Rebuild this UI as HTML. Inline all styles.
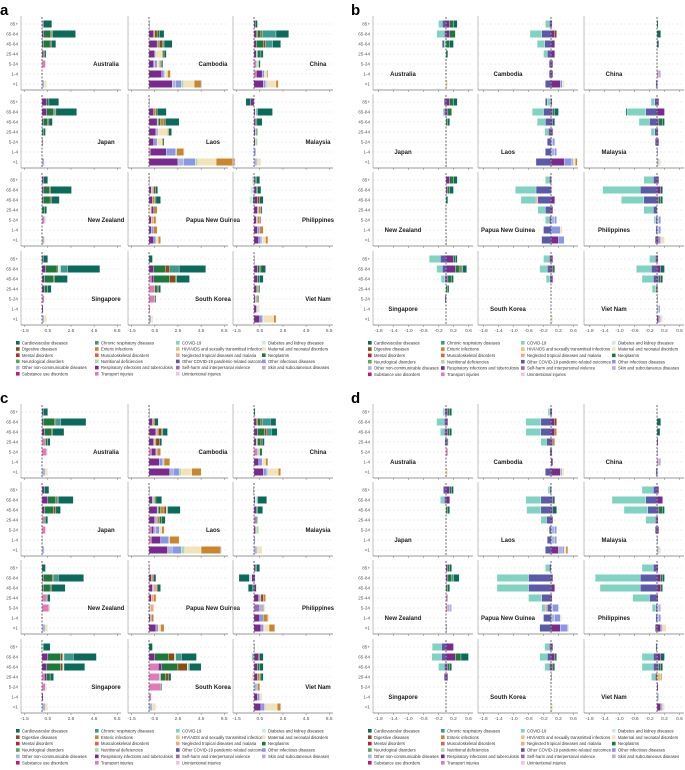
<!DOCTYPE html>
<html><head><meta charset="utf-8">
<style>
html,body{margin:0;padding:0;background:#fff;}
svg text{font-family:"Liberation Sans",sans-serif;}
</style></head>
<body>
<svg id="fig" width="685" height="765" viewBox="0 0 685 765" xmlns="http://www.w3.org/2000/svg"></svg>
<script>
const categories = ["Cardiovascular diseases","Chronic respiratory diseases","COVID-19","Diabetes and kidney diseases","Digestive diseases","Enteric infections","HIV/AIDS and sexually transmitted infections","Maternal and neonatal disorders","Mental disorders","Musculoskeletal disorders","Neglected tropical diseases and malaria","Neoplasms","Neurological disorders","Nutritional deficiencies","Other COVID-19 pandemic-related outcomes","Other infectious diseases","Other non-communicable diseases","Respiratory infections and tuberculosis","Self-harm and interpersonal violence","Skin and subcutaneous diseases","Substance use disorders","Transport injuries","Unintentional injuries"];
const catCodes = ["C","H","V","D","G","E","A","M","P","K","T","N","L","F","O","I","X","R","S","Q","U","W","J"];
const catColors = ["#0b6b5b","#3a9a90","#7fd3c0","#c9ece2","#8c4a14","#c8862e","#e6c27a","#f3e3b8","#c0203a","#e0604a","#f4a582","#1b7a3a","#4cae58","#a8dca0","#5a5aa8","#8c96e6","#aab4dc","#7a2a8c","#9a6ab8","#c4a8d8","#c8167a","#e07ab8","#f4c0dc"];
const countries = ["Australia","Cambodia","China","Japan","Laos","Malaysia","New Zealand","Papua New Guinea","Philippines","Singapore","South Korea","Viet Nam"];
const ages = ["85+","65-84","45-64","25-44","5-24","1-4","<1"];
const ticksAC = [-1.5,0.5,2.5,4.5,6.5];
const ticksBD = [-1.8,-1.4,-1.0,-0.6,-0.2,0.2,0.6];

const dataA = {
"Australia":["X.05 R.1 C.7","R.15 N.6 G.1 H.05 C2.0","R.1 N.6 G.1 C.4","U.1 N.1 C.15","W.3","","X.2 M.2"],
"Cambodia":["R.05","R.4 E.1 G.2 N.2 C.4","R.7 E.1 N.1 G.3 H.1 C.7","R.5 X.1 M.5 E.1 N.1 C.2","R.4 X.1 I.2 M.2 E.1 N.1 C.1","R1.1 I.2 F.1 M.2 E.25","R2.0 X.3 I.5 F.2 M.9 E.6 H.05"],
"China":["R.1 C.2","R.2 G.1 N.3 G.1 H1.2 C1.1","R.2 N.6 G.2 H.6 C.7","R.2 X.1 N.3 C.2","W.2 X.1 F.1 N.15","W.2 R.5 I.2 M.2 E.1","R.8 I.2 X.1 M.8 E.2"],
"Japan":["R.4 N.2 C.85","R.4 N.6 G.1 H.1 C1.8","R.1 N.4 G.1 C.3","N.15 C.15","W.1","","X.2"],
"Laos":["R.05","R.4 E.2 N.1 C.8","R.7 X.1 N.2 E.3 G.1 C1.2","R.6 X.2 M.8 E.1 C.25","R.4 I.3 M.4 E.1 N.1","W.1 R1.4 I.8 F.1 E.6","R2.5 X.5 I1.0 F.2 M1.6 E1.6 H.05"],
"Malaysia":["R-.3 C-.4","R.1 D.1 H.1 C1.3","R.15 N.1 C.45","R.1 X.1 N.1","R.1 F.2","I.15","X.2 I.1 M.3"],
"New Zealand":["R.15 C.35","R.15 N.5 G.1 C1.8","R.1 N.6 G.1 C.7","N.2 C.2","W.2 X.1","","X.2 M.1"],
"Papua New Guinea":["R.05","R.2 X.1 E.1 G.15 C.2","R.3 E.2 N.1 C.4","M.2 R.2 E.3","R.2 T.2 E.2","R.2 I.2 E.3","R.4 I.2 M.2 E.2"],
"Philippines":["R.1 N.1 C.3 D-.2","R.2 N.1 C.3 D-.3","R.3 G.2 C.3 N-.1 D-.3","R.3 X.1 E.2 C.1","R.2 X.1 E.2 S.1","R.3 I.2 E.3","R.4 I.2 X.1 M.3 E.2"],
"Singapore":["R.1 C.4 D-.1","R.3 N1.0 G.1 D.2 H.6 C2.8","R.2 N.8 G.1 C1.1","R.2 N.3 C.3","W.2","R.1","X.2 M.2"],
"South Korea":["C.3","R.4 N1.0 G.4 H.8 C2.3","W.2 R.2 N1.4 G.5 H.1 C1.1","W.5 N.2 G.1 C.2","W.5 N.1","W.1","X.2 M.15"],
"Viet Nam":["R.05","R.3 N.2 G.1 C.4","R.3 N.2 C.3","R.2 N.1 E.1 C.1","R.1 X.1 E.1 N.1","R.2 I.1 M.2","R.5 I.2 X.1 M.9 E.2"]
};
const dataB = {
"Australia":["R.1 N.1 C.1 O-.1 V-.1","R.1 N.15 O-.05 V-.2","N.1 C.1 V-.05 O-.05","C.05","","","M.05"],
"Cambodia":["R.03 O-.05 V-.1","R.1 G.05 O-.25 V-.31","R.1 O-.17 V-.2","R.1 O-.1 V-.1","R.05 O-.05","R.05 O-.05","R.25 I.05 M.05 O-.15"],
"China":["C.03","C.1","C.05","","","W.05 X.05","X.03 O-.03"],
"Japan":["R.1 N.1 C.1 O-.05","R.05 N.1 O-.05 V-.03","N.05 C.05","","","","X.02"],
"Laos":["R.03 V-.1 O-.05","R.05 N.05 C.1 O-.2 V-.3","R.05 C.05 O-.15 V-.22","R.05 O-.07 V-.1","X.05 I.05 O-.1","X.1 I.05 O-.15","R.35 I.2 X.05 M.05 E.05 O-.4"],
"Malaysia":["R.05 O-.06 V-.1","R.2 O-.3 V-.5 C-.03","R.05 N.1 C.05 O-.2 V-.28","R.03 O-.06 V-.1","R.05 O-.05","X.03","X.05 M.05"],
"New Zealand":["R.1 N.1 C.1","R.05 N.05 C.1","C.05","","","","X.02"],
"Papua New Guinea":["R.02 O-.05 V-.1","R.02 O-.4 V-.55","R.1 O-.35 T-.05 V-.4","R.05 O-.15 V-.2","X.1 I.05 O-.05 V-.1","I.25 M.05 O-.2","R.2 I.15 O-.25"],
"Philippines":["R.05 O-.1 V-.25","R.1 C.05 O-.45 V-1.0","R.05 N.05 C.05 O-.35 V-.6","O-.1 V-.25","X.05 I.05 O-.03 V-.05","X.05 I.05 O-.03","R.05 I.05 M.1 O-.05"],
"Singapore":["R.2 N.05 C.05 O-.15 V-.3","R.25 N.1 G.05 H.05 C.1 O-.1 V-.15","R.05 N.1 C.05 O-.03 V-.1","N.05 C.03","W.02 O-.03","",""],
"South Korea":["R.05 O-.05 V-.15","R.05 N.05 O-.1 V-.2","R.05 O-.03 V-.1","","","","M.05"],
"Viet Nam":["R.03 O-.05 V-.15","R.1 C.1 O-.15 V-.4","R.05 N.05 C.05 O-.1 V-.3","E.03 O-.03 V-.1","X.03","X.05 I.03","R.05 X.05 M.05"]
};
const dataC = {
"Australia":["R.1 C.4","R.1 N1.0 G.1 H.4 C2.2","R.2 N.6 G.1 C1.0","W.3 N.2 C.2","W.4 D.1","","X.3 M.2"],
"Cambodia":["R.05","R.3 E.1 G.1 C.3","R.6 X.1 E.1 G.3 H.1 C.4 M-.1","R.4 X.1 E.1 G.3 C.2","W.2 R.4 X.1 E.3","R.9 I.3 F.1 E.5","R1.8 X.3 I.5 F.2 M.9 E.8"],
"China":["C.1","R.2 G.1 N.3 G.1 H.7 C.5","R.3 N.6 G.2 H.4 C.5","R.2 X.1 N.3 G.1 C.2","W.3 X.1 F.1 N.2","R.4 I.3 M.3 E.2","R.8 I.3 X.1 M.9 E.2"],
"Japan":["R.2 C.4","R.5 N.7 G.1 H.1 C1.3","R.2 N.8 G.2 C.4","W.2 N.1 C.2","W.3","X.05","X.2"],
"Laos":["R.05","R.3 X.1 E.1 N.1 C.5","R.7 X.1 N.2 E.3 G.2 D.1 C1.1","R.5 X.2 E.2 N.2 C.3 M-.1","W.2 R.2 X.2 I.3 M.2 E.2","W.2 R.8 I.7 F.1 E.8","R1.6 X.4 I.8 F.3 M1.4 E1.7 H.05"],
"Malaysia":["R-.05","R.1 D.2 C.8","R.2 N.1 C.45","W.1 R.1 N.1","R.1 S.1 F.2","I.1","X.2 I.1 M.4"],
"New Zealand":["C.3","R.1 N.8 G.1 H.4 C2.2","R.1 N.6 G.1 C1.2","W.4 N.1 C.2","W.6 D.1","","X.3 M.2"],
"Papua New Guinea":["R.05","R.2 E.1 G.1 C.2","R.3 X.1 T.3 C.3 M-.05","R.2 T.2 E.2 M-.1","X.1 T.3","R.1 I.1 E.2","R.6 I.2 M.2 E.3"],
"Philippines":["R.1 N.1 C.3","R.1 R-.2 D-.2 C-.9","R.2 H-.1 C-.4","R.4 X.2 G.2 E.2","S.5 X.2 E.1 I.1","R.5 I.3 E.4 D.1","R.6 I.2 X.1 M.4 E.5"],
"Singapore":["D.1 C.6 D-.1","R.5 N1.1 G.2 D.1 H.8 C2.0","R.4 N1.2 G.2 D.1 C1.8","W.2 R.2 N.3 C.3","W.3 D.1","R.1","X.3 M.2"],
"South Korea":["C.3","R.5 N1.2 G.5 D.1 H.5 C1.3","W.8 R.3 N1.4 G.8 D.1 H.1 C1.0","W.9 X.1 N.4 G.3 C.2","W1.0 N.1","W.2","X.3 M.3"],
"Viet Nam":["R.05","R.4 G.1 C.3 V-.2","R.3 N.2 C.3","R.3 E.2 N.1 C.2 M-.2","X.2 I.1 E.2","R.3 I.2 M.2","R.6 I.3 X.1 M1.0 E.3"]
};
const dataD = {
"Australia":["R.05 N.05 C.05 O-.03 V-.05","R.05 O-.05 V-.2","R.05 N.05 C.05 O-.05 V-.1","R.03 C.03 O-.03","W.05","","M.05"],
"Cambodia":["R.03 O-.03 V-.05","R.1 G.05 O-.27 V-.4","R.1 E.05 O-.27 V-.4","R.05 E.05 O-.12 V-.15","R.03 O-.03","R.05","R.25 X.05 M.05 O-.15"],
"China":["","C.1","C.08","R.03","X.03","W.05 X.05","X.03 O-.03"],
"Japan":["R.1 N.05 C.05 O-.07","R.1 O-.05 V-.1","N.05 C.05","","","",""],
"Laos":["R.02 O-.03 V-.05","R.05 C.05 O-.27 V-.4","R.05 C.1 O-.27 V-.38","R.05 O-.12 V-.15","X.1 I.05 O-.05","X.1 I.05 O-.1","R.2 X.1 I.05 M.05 E.05 O-.15"],
"Malaysia":["R.05 O-.1 V-.3","R.15 O-.3 V-.9","R.05 N.1 C.05 O-.25 V-.63","R.03 O-.05 V-.25","R.05 O-.05","X.03","X.05 M.05"],
"New Zealand":["R.05 N.05 C.05","R.05 N.1 H.05 C.15","N.05 C.05","W.05","W.05 X.05 Q.05","","X.03"],
"Papua New Guinea":["O-.05 V-.1","R.05 O-.6 V-.84","R.1 O-.6 V-.84","R.03 O-.25 V-.35","X.05 I.15 O-.1 T-.05 V-.1","X.1 I.15 M.03 O-.2","R.25 I.2 M.03 O-.3"],
"Philippines":["R.03 O-.1 V-.3","R.1 N.05 C.05 O-.45 V-1.2","R.1 N.05 O-.45 V-1.07","R.03 O-.2 V-.45","X.05 Q.05 O-.03 V-.1","X.05 I.05 O-.03","R.1 X.05 M.1 O-.05"],
"Singapore":["R.2 O-.12 V-.25","R.25 N.15 C.2 O-.12 V-.26","R.05 N.05 C.05 O-.05 V-.15","R.05 O-.05","","",""],
"South Korea":["R.05 O-.05 V-.12","R.1 N.05 O-.1 V-.2","R.05 N.05 O-.05 V-.12","R.02","","","M.05"],
"Viet Nam":["O-.03","R.1 C.1 O-.1 V-.3","R.05 N.05 C.05 O-.1 V-.3","A.1 E.03 O-.05 V-.1","R.03","X.05","R.1 X.05 M.05"]
};

const NS = "http://www.w3.org/2000/svg";
const svg = document.getElementById("fig");
function mk(tag, attrs, parent){const e=document.createElementNS(NS,tag);for(const k in attrs)e.setAttribute(k,attrs[k]);(parent||svg).appendChild(e);return e;}
function parseBar(s){if(!s)return[];return s.trim().split(/\s+/).map(t=>({code:t[0],v:parseFloat(t.slice(1))}));}

const panels = [
 {letter:"a",data:dataA,ox:0,oy:0,type:"ac",legendY:343,legendStep:6.2},
 {letter:"b",data:dataB,ox:345,oy:0,type:"bd",legendY:343,legendStep:6.3},
 {letter:"c",data:dataC,ox:0,oy:388,type:"ac",legendY:731,legendStep:6.4},
 {letter:"d",data:dataD,ox:345,oy:388,type:"bd",legendY:731,legendStep:6.4}
];

panels.forEach(p=>{
  const g = mk("g",{});
  
  
  const lt = mk("text",{x:p.ox+(p.type==="ac"?0:6),y:p.oy+15,"font-size":"15","font-weight":"bold",fill:"#000"},g);
  lt.textContent=p.letter;
  
  
  const colX = p.type==="ac"?[21,128,233]:[28,133,239];
  const zeroOff = p.type==="ac"?21:73;
  const scale = p.type==="ac"?11.58:37.5;
  const ticks = p.type==="ac"?ticksAC:ticksBD;
  const rowY0 = [24,102,180,259];
  countries.forEach((cn,ci)=>{
    const col=ci%3,row=Math.floor(ci/3);
    const x0=p.ox+colX[col], y85=p.oy+rowY0[row];
    const fg=mk("g",{},g);
    
    
    const xs=v=>x0+zeroOff+v*scale;
    const ys=i=>y85+i*10;
    ages.forEach((a,i)=>{
      mk("line",{x1:x0,x2:x0+100,y1:ys(i),y2:ys(i),stroke:"#ddd","stroke-width":"0.6","stroke-dasharray":"2,2"},fg);
      if(col===0){const t=mk("text",{x:x0-3,y:ys(i)+1.6,"font-size":"4.6",fill:"#555","text-anchor":"end"},fg);t.textContent=a;
        
        }
    });
    mk("line",{x1:x0,x2:x0,y1:y85-8,y2:ys(6)+6,stroke:"#ccc","stroke-width":"1.2"},fg);
    mk("line",{x1:x0,x2:x0+100,y1:ys(6)+6,y2:ys(6)+6,stroke:"#777","stroke-width":"0.7"},fg);
    ticks.forEach(t=>{
      mk("line",{x1:xs(t),x2:xs(t),y1:ys(6)+6,y2:ys(6)+8,stroke:"#777","stroke-width":"0.5"},fg);
      if(row===3){const tl=mk("text",{x:xs(t),y:ys(6)+13,"font-size":"4.8",fill:"#555","text-anchor":"middle"},fg);tl.textContent=t.toFixed(1);
        
        }
    });
    const d=p.data[cn];
    ages.forEach((a,i)=>{
      let pos=0,neg=0;
      parseBar(d[i]).forEach(s=>{
        const k=catCodes.indexOf(s.code);
        let a0,a1;
        if(s.v>=0){a0=pos;a1=pos+s.v;pos=a1;}else{a0=neg+s.v;a1=neg;neg=a0;}
        const r=mk("rect",{x:xs(a0),y:ys(i)-3.6,width:Math.max(0.4,xs(a1)-xs(a0)),height:7.2,fill:catColors[k],stroke:"#fff","stroke-width":"0.3"},fg);
        
        
      });
    });
    mk("line",{x1:xs(0),x2:xs(0),y1:y85-7,y2:ys(6)+5,stroke:"#444","stroke-width":"0.8","stroke-dasharray":"2,1.5"},fg);
    const lbl=mk("text",{x:x0+(p.type==="ac"?85:30),y:(p.type==="ac"?ys(4):ys(5))+2,"font-size":"6","font-weight":"bold",fill:"#222","text-anchor":"middle"},fg);
    lbl.textContent=cn;
    
    
  });
  const lx = p.type==="ac"?[16,95,176,262]:[368,441,521,612];
  const lg=mk("g",{},g);
  
  
  categories.forEach((c,i)=>{
    const cx=lx[i%4], cy=p.legendY+Math.floor(i/4)*p.legendStep;
    const e=mk("g",{},lg);
    
    
    mk("rect",{x:cx,y:cy-2,width:3.6,height:3.6,fill:catColors[i]},e);
    const t=mk("text",{x:cx+6,y:cy+1.4,"font-size":"4.2",fill:"#333"},e);
    t.textContent=c;
  });
});
</script>
</body></html>
